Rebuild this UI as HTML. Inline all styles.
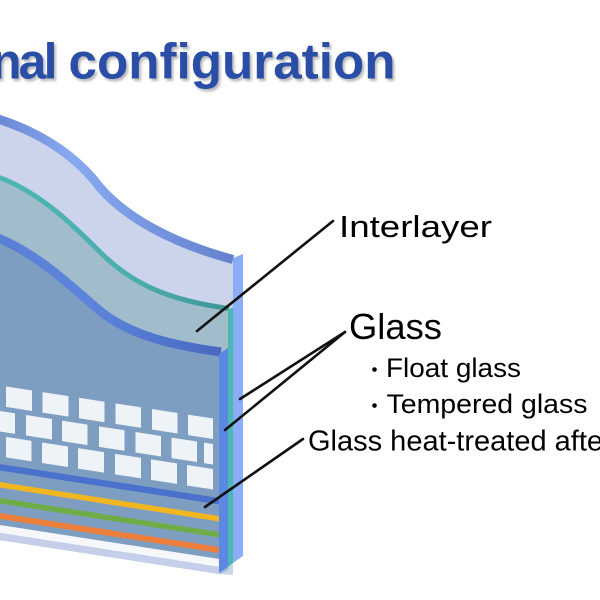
<!DOCTYPE html>
<html><head><meta charset="utf-8"><style>
html,body{margin:0;padding:0;background:#fff;}
svg{display:block;}
</style></head><body>
<svg width="600" height="600" viewBox="0 0 600 600" xmlns="http://www.w3.org/2000/svg">
<defs>
<linearGradient id="gTop" x1="0" x2="240" y1="0" y2="0" gradientUnits="userSpaceOnUse">
<stop offset="0" stop-color="#6a89d6"/>
<stop offset="0.3" stop-color="#88a8f0"/>
<stop offset="0.5" stop-color="#7d9de6"/>
<stop offset="1" stop-color="#6480cc"/>
</linearGradient>
<linearGradient id="gDark" x1="0" x2="222" y1="0" y2="0" gradientUnits="userSpaceOnUse">
<stop offset="0" stop-color="#5a7fd6"/>
<stop offset="0.4" stop-color="#5d84dc"/>
<stop offset="1" stop-color="#4868bf"/>
</linearGradient>
<linearGradient id="gTeal" x1="0" x2="230" y1="0" y2="0" gradientUnits="userSpaceOnUse">
<stop offset="0" stop-color="#4fb5b2"/>
<stop offset="0.6" stop-color="#4aaeac"/>
<stop offset="1" stop-color="#3f9696"/>
</linearGradient>
<filter id="sh" x="-5%" y="-20%" width="115%" height="160%">
<feDropShadow dx="2" dy="2.5" stdDeviation="1.2" flood-color="#000" flood-opacity="0.28"/>
</filter>
</defs>
<rect width="600" height="600" fill="#fff"/>

<!-- title -->
<g filter="url(#sh)" font-family="'Liberation Sans', Arial, sans-serif" font-weight="bold" font-size="50" fill="#2b4ea6">
<text x="-9" y="78.5" textLength="66.5" lengthAdjust="spacing">nal</text>
<text x="68.5" y="78.5" textLength="327" lengthAdjust="spacingAndGlyphs">configuration</text>
</g>

<!-- face fills -->
<path d="M0,115 C40,128 75,150 100,183 C125,212 170,238 233,255 L233,575 L220,574 L0,540 Z" fill="#cbd4ea"/>
<path d="M0,177 C40,192 75,227 100,252 C130,282 165,300 228,308 L228,570 L220,574 L0,540 Z" fill="#a1bccb"/>
<path d="M0,238 C40,255 75,290 100,311 C130,335 170,345 220,352 L220,574 L0,540 Z" fill="#7e9ec1"/>

<!-- curved edges -->
<path d="M-2,119 C40,132.5 75,154.5 100,187.5 C125,216.5 170,242.5 233,259.5" fill="none" stroke="url(#gTop)" stroke-width="9"/>
<path d="M-2,177 C40,192 75,227 100,252 C130,282 165,300 229,308.5" fill="none" stroke="url(#gTeal)" stroke-width="5"/>
<path d="M-2,238 C40,255 75,290 100,311 C130,335 170,345 221,352" fill="none" stroke="url(#gDark)" stroke-width="9"/>

<!-- skewed stripes and bricks -->
<g transform="matrix(1 0.155 0 1 0 0)">
<rect x="0" y="464" width="220" height="6.5" fill="#4a72cc"/>
<rect x="0" y="482" width="220" height="5.5" fill="#f2b620"/>
<rect x="0" y="498" width="220" height="5.5" fill="#6fac48"/>
<rect x="0" y="513" width="220" height="6" fill="#ea7e3a"/>
<rect x="0" y="525" width="220" height="8" fill="#f5f7fb"/>
<rect x="0" y="533" width="220" height="7" fill="#c5cfe9"/>
<g fill="#eef3f8">
<rect x="6" y="385.5" width="26" height="20.5"/>
<rect x="42.5" y="385.5" width="26" height="20.5"/>
<rect x="79" y="385.5" width="25.5" height="20.5"/>
<rect x="115.5" y="385.5" width="25.5" height="20.5"/>
<rect x="152" y="385.5" width="25.5" height="20.5"/>
<rect x="188" y="385.5" width="25" height="20.5"/>

<rect x="-11" y="411" width="26" height="20.5"/>
<rect x="26" y="411" width="26" height="20.5"/>
<rect x="62" y="411" width="25.5" height="20.5"/>
<rect x="99" y="411" width="25.5" height="20.5"/>
<rect x="135.5" y="411" width="25.5" height="20.5"/>
<rect x="171.5" y="411" width="25.5" height="20.5"/>
<rect x="204" y="411" width="9" height="20.5"/>

<rect x="6" y="436" width="25.5" height="20.5"/>
<rect x="42" y="436" width="26" height="20.5"/>
<rect x="78" y="436" width="26" height="20.5"/>
<rect x="115" y="436" width="26" height="20.5"/>
<rect x="151" y="436" width="26" height="20.5"/>
<rect x="187" y="436" width="26" height="20.5"/>
</g>
</g>

<!-- side strips -->
<polygon points="233,258 243,254 243,556 233,563" fill="#8aaef6"/>
<polygon points="228,310 233,307 233,563 228,567" fill="#4bb8b6"/>
<polygon points="219,354 228,348 228,567 219,573" fill="#5b88e3"/>

<!-- connectors -->
<g stroke="#111" stroke-width="2.6" stroke-linecap="round" fill="none">
<line x1="197" y1="331" x2="333" y2="221"/>
<line x1="240" y1="399" x2="345" y2="332"/>
<line x1="225" y1="430" x2="345" y2="332"/>
<line x1="205" y1="507" x2="303" y2="439"/>
</g>

<!-- labels -->
<g font-family="'Liberation Sans', Arial, sans-serif" fill="#000">
<text x="339" y="237" font-size="31" textLength="153" lengthAdjust="spacingAndGlyphs">Interlayer</text>
<text x="349" y="339" font-size="36" textLength="93" lengthAdjust="spacingAndGlyphs">Glass</text>
<circle cx="374.5" cy="369.5" r="2.3"/>
<text x="386" y="377" font-size="27" textLength="135" lengthAdjust="spacingAndGlyphs">Float glass</text>
<circle cx="374.5" cy="405.5" r="2.3"/>
<text x="386.5" y="413" font-size="27" textLength="201" lengthAdjust="spacingAndGlyphs">Tempered glass</text>
<text x="308" y="450.5" font-size="29">Glass heat-treated after</text>
</g>
</svg>
</body></html>
